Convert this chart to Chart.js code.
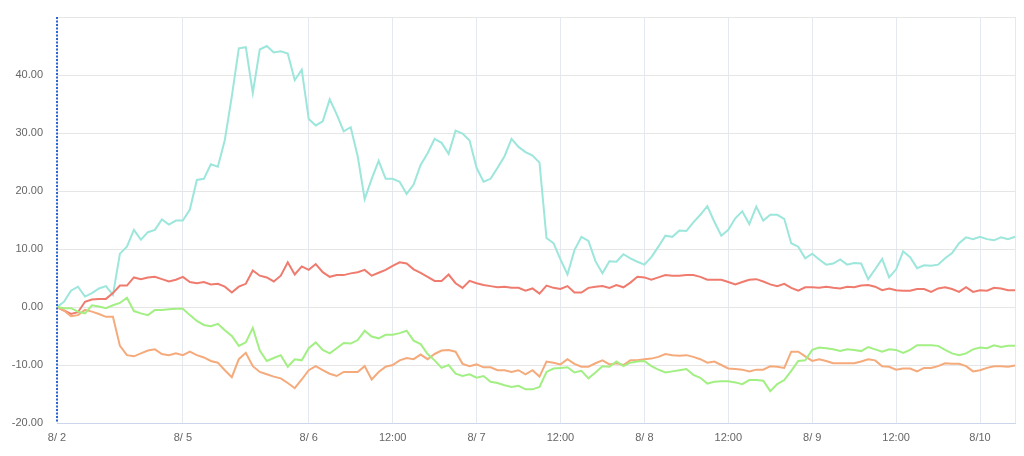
<!DOCTYPE html>
<html>
<head>
<meta charset="utf-8">
<script src="https://cdn.jsdelivr.net/npm/chart.js@4"></script>
<style>
  html, body { margin: 0; padding: 0; background: #fff; }
  #wrap { width: 1024px; height: 456px; }
</style>
</head>
<body>
<div id="wrap"><canvas id="chart" width="1024" height="456"></canvas></div>
<script>
// x positions that carry a label, and their text
const tickIdx = [0, 18, 36, 48, 60, 72, 84, 96, 108, 120, 132];
const tickText = ['8/ 2', '8/ 5', '8/ 6', '12:00', '8/ 7', '12:00', '8/ 8', '12:00', '8/ 9', '12:00', '8/10'];

const cyanValues = [
  0, 0.9, 2.8, 3.5, 1.8, 2.4, 3.2, 3.6, 2.1, 9.2, 10.4, 13.3, 11.6, 12.9, 13.3, 15.1, 14.2, 14.9, 14.9, 16.8,
  21.9, 22.1, 24.6, 24.2, 28.8, 36.3, 44.6, 44.8, 36.9, 44.4, 45.0, 43.9, 44.1, 43.7, 39.1, 40.9, 32.4, 31.3, 32.0, 35.8,
  33.2, 30.3, 31.0, 26.0, 18.6, 22.1, 25.2, 22.1, 22.1, 21.6, 19.5, 21.1, 24.5, 26.5, 29.0, 28.3, 26.4, 30.4, 29.9, 28.7,
  24.0, 21.6, 22.1, 24.0, 26.0, 29.0, 27.6, 26.7, 26.1, 24.9, 11.9, 11.0, 8.2, 5.6, 9.8, 12.1, 11.4, 7.9, 5.8, 7.9,
  7.8, 9.1, 8.4, 7.8, 7.3, 8.6, 10.4, 12.3, 12.1, 13.2, 13.1, 14.6, 15.9, 17.4, 14.7, 12.3, 13.3, 15.3, 16.5, 14.3,
  17.3, 14.9, 15.9, 15.9, 15.2, 11.0, 10.4, 8.4, 9.2, 8.2, 7.3, 7.5, 8.2, 7.3, 7.6, 7.5, 4.8, 6.5, 8.3, 5.1,
  6.5, 9.6, 8.6, 6.7, 7.2, 7.1, 7.3, 8.4, 9.3, 11.0, 12.0, 11.7, 12.1, 11.7, 11.5, 12.0, 11.7, 12.1
];
const redValues = [
  0, -0.6, -1.2, -0.9, 0.9, 1.3, 1.4, 1.4, 2.4, 3.7, 3.7, 5.1, 4.8, 5.1, 5.2, 4.8, 4.4, 4.7, 5.2, 4.3,
  4.1, 4.3, 3.9, 4.0, 3.5, 2.5, 3.5, 4.0, 6.3, 5.4, 5.1, 4.4, 5.4, 7.7, 5.6, 7.0, 6.4, 7.4, 6.0, 5.2,
  5.5, 5.5, 5.8, 6.0, 6.4, 5.4, 5.9, 6.4, 7.1, 7.7, 7.5, 6.5, 5.9, 5.2, 4.5, 4.5, 5.6, 4.1, 3.3, 4.5,
  4.1, 3.8, 3.6, 3.4, 3.5, 3.3, 3.3, 2.8, 3.2, 2.3, 3.7, 3.3, 3.1, 3.6, 2.5, 2.5, 3.3, 3.5, 3.6, 3.3,
  3.8, 3.4, 4.2, 5.2, 5.1, 4.7, 5.1, 5.5, 5.4, 5.4, 5.5, 5.5, 5.2, 4.7, 4.7, 4.7, 4.3, 3.9, 4.3, 4.7,
  4.8, 4.4, 3.9, 3.6, 4.0, 3.3, 2.8, 3.4, 3.4, 3.3, 3.5, 3.3, 3.2, 3.5, 3.4, 3.7, 3.8, 3.5, 2.9, 3.2,
  2.9, 2.8, 2.8, 3.1, 3.1, 2.6, 3.2, 3.4, 3.1, 2.6, 3.4, 2.6, 2.9, 2.8, 3.3, 3.2, 2.9, 2.9
];
const greenValues = [
  0, -0.2, -0.2, -0.8, -1.1, 0.3, 0.1, -0.2, 0.3, 0.7, 1.6, -0.7, -1.1, -1.4, -0.5, -0.5, -0.4, -0.3, -0.3, -1.4,
  -2.4, -3.1, -3.3, -2.9, -4.0, -5.0, -6.7, -6.1, -3.6, -7.5, -9.3, -8.8, -8.3, -10.3, -9.0, -9.2, -7.1, -6.1, -7.4, -8.0,
  -7.1, -6.2, -6.3, -5.7, -4.1, -5.1, -5.4, -4.8, -4.8, -4.5, -4.1, -5.8, -6.4, -8.1, -9.2, -10.5, -10.0, -11.5, -11.9, -11.6,
  -12.2, -11.9, -12.9, -13.1, -13.5, -13.8, -13.6, -14.2, -14.2, -13.8, -11.2, -10.6, -10.5, -10.4, -11.3, -11.0, -12.3, -11.3, -10.2, -10.3,
  -9.4, -10.2, -9.6, -9.4, -9.3, -10.2, -10.8, -11.3, -11.1, -10.9, -10.7, -11.7, -12.2, -13.2, -12.9, -12.8, -12.8, -13.0, -13.3, -12.6,
  -12.6, -12.7, -14.5, -13.3, -12.6, -11.0, -9.3, -9.2, -7.4, -7.0, -7.1, -7.3, -7.6, -7.3, -7.4, -7.6, -6.9, -7.3, -7.7, -7.3,
  -7.4, -7.9, -7.4, -6.6, -6.6, -6.6, -6.7, -7.4, -8.0, -8.3, -8.0, -7.3, -7.0, -7.1, -6.6, -6.9, -6.7, -6.7
];
const orangeValues = [
  0, -0.6, -1.6, -1.4, -0.5, -0.8, -1.2, -1.7, -1.7, -6.7, -8.3, -8.5, -8.0, -7.5, -7.3, -8.1, -8.3, -8.0, -8.3, -7.7,
  -8.3, -8.7, -9.3, -9.6, -10.9, -12.1, -9.0, -7.9, -10.2, -11.2, -11.6, -12.0, -12.3, -13.1, -14.0, -12.5, -10.9, -10.2, -10.9, -11.5,
  -11.9, -11.2, -11.2, -11.2, -10.2, -12.5, -11.2, -10.3, -10.0, -9.2, -8.8, -9.0, -8.2, -9.0, -8.1, -7.5, -7.4, -7.7, -9.8, -10.2,
  -9.9, -10.4, -10.4, -10.9, -10.9, -11.2, -10.9, -11.6, -10.9, -12.0, -9.4, -9.6, -9.9, -9.0, -9.8, -10.3, -10.3, -9.7, -9.2, -9.9,
  -9.7, -10.0, -9.2, -9.2, -9.0, -8.9, -8.6, -8.1, -8.3, -8.4, -8.3, -8.6, -9.0, -9.6, -9.4, -10.0, -10.6, -10.7, -10.8, -11.1,
  -10.8, -10.8, -10.2, -10.3, -10.5, -7.7, -7.7, -8.5, -9.3, -9.0, -9.3, -9.7, -9.7, -9.7, -9.7, -9.4, -9.0, -9.2, -10.2, -10.3,
  -10.8, -10.6, -10.6, -11.1, -10.5, -10.5, -10.2, -9.7, -9.8, -9.8, -10.2, -11.1, -10.9, -10.5, -10.2, -10.2, -10.3, -10.1
];

const labels = cyanValues.map((v, i) => {
  const k = tickIdx.indexOf(i);
  return k >= 0 ? tickText[k] : '';
});

function line(data, color) {
  return {
    data: data,
    borderColor: color,
    backgroundColor: color,
    borderWidth: 2,
    pointRadius: 0,
    tension: 0,
    fill: false
  };
}

// dotted blue marker line along the left edge of the plot
const leftMarker = {
  id: 'leftMarker',
  afterDraw(chart) {
    const { ctx, chartArea } = chart;
    ctx.save();
    ctx.strokeStyle = '#2d66d4';
    ctx.lineWidth = 2;
    ctx.setLineDash([2, 1.5]);
    ctx.beginPath();
    ctx.moveTo(chartArea.left, chartArea.top);
    ctx.lineTo(chartArea.left, chartArea.bottom);
    ctx.stroke();
    ctx.restore();
  }
};

const tickFont = { family: 'Liberation Sans, Arial, sans-serif', size: 11 };

new Chart(document.getElementById('chart'), {
  type: 'line',
  data: {
    labels: labels,
    datasets: [
      line(greenValues, '#a2ef83'),
      line(orangeValues, '#f5aa7b'),
      line(redValues, '#ef7b6e'),
      line(cyanValues, '#9ce6dc')
    ]
  },
  options: {
    responsive: false,
    animation: false,
    layout: { padding: { top: 17, right: 9, left: 0, bottom: 0 } },
    plugins: { legend: { display: false }, tooltip: { enabled: false } },
    scales: {
      x: {
        type: 'category',
        offset: false,
        afterBuildTicks: axis => {
          const t = tickIdx.slice();
          t.push(labels.length - 1);
          axis.ticks = t.map(i => ({ value: i }));
        },
        afterFit: axis => { axis.height = 33; axis.paddingLeft = 0; axis.paddingRight = 0; },
        grid: { color: '#e4e8f0', drawTicks: false },
        border: { color: '#ccd6eb', width: 1 },
        ticks: { autoSkip: false, maxRotation: 0, padding: 8, color: '#666', font: tickFont }
      },
      y: {
        min: -20,
        max: 50,
        afterFit: axis => { axis.width = 57; axis.paddingTop = 0; axis.paddingBottom = 0; },
        grid: { color: '#e6e6e6', drawTicks: false },
        border: { display: false },
        ticks: {
          stepSize: 10,
          padding: 14,
          color: '#666',
          font: tickFont,
          callback: v => (v === 50 ? '' : v.toFixed(2))
        }
      }
    }
  },
  plugins: [leftMarker]
});
</script>
</body>
</html>
